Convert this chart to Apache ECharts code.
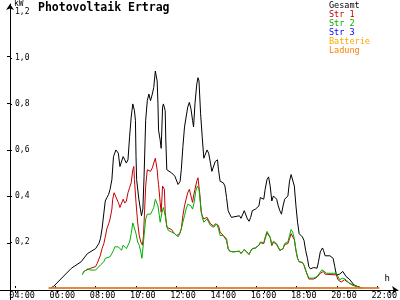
<!DOCTYPE html>
<html>
<head>
<meta charset="utf-8">
<script src="https://cdn.jsdelivr.net/npm/echarts@6/dist/echarts.min.js"></script>
<style>html,body{margin:0;padding:0;background:#fff}#c{width:400px;height:300px}</style>
</head>
<body>
<div id="c"></div>
<script>
// time in decimal hours, power in kW
const gesamt = [[5.77,0],[5.91,0.007],[6.80,0.086],[7.28,0.114],[7.60,0.150],[8.00,0.171],[8.16,0.193],[8.24,0.214],[8.32,0.257],[8.48,0.378],[8.56,0.393],[8.65,0.407],[8.72,0.429],[8.81,0.471],[8.89,0.571],[9.01,0.600],[9.13,0.586],[9.21,0.528],[9.29,0.522],[9.37,0.571],[9.45,0.557],[9.53,0.543],[9.61,0.557],[9.69,0.657],[9.77,0.743],[9.85,0.800],[9.93,0.771],[9.98,0.729],[10.01,0.571],[10.04,0.471],[10.15,0.386],[10.28,0.314],[10.35,0.343],[10.41,0.486],[10.49,0.729],[10.57,0.814],[10.65,0.843],[10.73,0.814],[10.82,0.843],[10.89,0.871],[10.97,0.943],[11.02,0.950],[11.06,0.900],[11.10,0.800],[11.13,0.686],[11.21,0.643],[11.26,0.607],[11.33,0.786],[11.37,0.800],[11.46,0.771],[11.49,0.643],[11.54,0.514],[11.61,0.507],[11.78,0.500],[11.94,0.486],[12.10,0.450],[12.20,0.463],[12.26,0.514],[12.34,0.614],[12.42,0.700],[12.58,0.786],[12.66,0.807],[12.74,0.779],[12.82,0.729],[12.87,0.700],[12.94,0.800],[13.03,0.886],[13.09,0.914],[13.14,0.900],[13.22,0.757],[13.30,0.657],[13.38,0.564],[13.47,0.557],[13.54,0.600],[13.62,0.586],[13.71,0.543],[13.78,0.507],[13.87,0.514],[13.95,0.550],[14.06,0.557],[14.11,0.514],[14.19,0.464],[14.35,0.457],[14.43,0.443],[14.51,0.393],[14.59,0.336],[14.67,0.321],[14.75,0.307],[14.83,0.314],[15.15,0.314],[15.23,0.303],[15.39,0.336],[15.47,0.329],[15.55,0.300],[15.63,0.290],[15.71,0.307],[15.79,0.336],[15.95,0.343],[16.12,0.357],[16.19,0.393],[16.28,0.400],[16.36,0.386],[16.43,0.429],[16.52,0.471],[16.60,0.483],[16.68,0.443],[16.76,0.378],[16.84,0.400],[16.92,0.400],[17.00,0.386],[17.08,0.357],[17.16,0.336],[17.24,0.321],[17.32,0.357],[17.40,0.386],[17.56,0.400],[17.64,0.464],[17.72,0.493],[17.80,0.486],[17.88,0.443],[17.96,0.357],[18.04,0.286],[18.12,0.236],[18.28,0.222],[18.36,0.207],[18.44,0.164],[18.53,0.129],[18.60,0.093],[18.68,0.083],[18.84,0.089],[19.01,0.086],[19.08,0.114],[19.17,0.157],[19.28,0.174],[19.33,0.164],[19.41,0.140],[19.65,0.140],[19.81,0.129],[19.89,0.093],[19.97,0.057],[20.13,0.060],[20.29,0.072],[20.37,0.064],[20.45,0.050],[20.61,0.039],[20.85,0.013],[21.01,0.007],[21.25,0]];

const str1 = [[7.36,0.064],[7.44,0.074],[7.76,0.086],[8.00,0.093],[8.08,0.107],[8.16,0.114],[8.24,0.143],[8.32,0.171],[8.41,0.193],[8.48,0.222],[8.56,0.257],[8.65,0.279],[8.72,0.300],[8.81,0.343],[8.85,0.386],[8.92,0.414],[9.01,0.407],[9.13,0.372],[9.21,0.350],[9.29,0.357],[9.37,0.386],[9.45,0.369],[9.53,0.378],[9.61,0.414],[9.69,0.436],[9.77,0.457],[9.85,0.514],[9.90,0.528],[9.93,0.471],[10.01,0.372],[10.09,0.286],[10.17,0.228],[10.25,0.200],[10.33,0.186],[10.38,0.228],[10.44,0.343],[10.49,0.443],[10.57,0.514],[10.65,0.522],[10.73,0.507],[10.82,0.522],[10.89,0.543],[10.97,0.564],[11.02,0.557],[11.06,0.514],[11.10,0.471],[11.13,0.450],[11.21,0.372],[11.26,0.329],[11.33,0.443],[11.37,0.450],[11.42,0.429],[11.46,0.329],[11.54,0.264],[11.61,0.257],[11.78,0.254],[11.86,0.243],[12.02,0.228],[12.10,0.222],[12.18,0.236],[12.26,0.257],[12.34,0.314],[12.42,0.357],[12.50,0.386],[12.58,0.414],[12.66,0.429],[12.74,0.400],[12.82,0.372],[12.87,0.400],[12.94,0.429],[13.03,0.464],[13.09,0.479],[13.14,0.471],[13.19,0.400],[13.25,0.329],[13.30,0.314],[13.38,0.300],[13.47,0.293],[13.54,0.307],[13.62,0.303],[13.71,0.279],[13.87,0.269],[13.95,0.279],[14.02,0.286],[14.11,0.271],[14.19,0.243],[14.35,0.228],[14.51,0.207],[14.59,0.171],[14.67,0.160],[14.83,0.157],[15.15,0.160],[15.23,0.150],[15.39,0.167],[15.47,0.160],[15.63,0.146],[15.71,0.160],[15.79,0.171],[15.95,0.174],[16.12,0.186],[16.19,0.197],[16.28,0.200],[16.36,0.193],[16.43,0.214],[16.52,0.240],[16.60,0.244],[16.68,0.219],[16.76,0.184],[16.84,0.200],[16.92,0.203],[17.00,0.189],[17.08,0.176],[17.16,0.163],[17.24,0.159],[17.32,0.171],[17.40,0.189],[17.56,0.193],[17.64,0.214],[17.72,0.236],[17.80,0.240],[17.88,0.210],[17.96,0.163],[18.04,0.129],[18.12,0.114],[18.28,0.111],[18.36,0.099],[18.44,0.077],[18.53,0.056],[18.60,0.039],[18.84,0.039],[19.01,0.047],[19.17,0.064],[19.33,0.072],[19.41,0.060],[19.49,0.057],[19.97,0.057],[20.05,0.036],[20.21,0.026],[20.37,0.036],[20.53,0.026],[20.77,0.012],[21.09,0.004],[21.24,0]];

const str2 = [[7.33,0.057],[7.44,0.072],[7.60,0.083],[7.76,0.078],[8.00,0.078],[8.08,0.086],[8.24,0.100],[8.41,0.114],[8.48,0.129],[8.56,0.132],[8.72,0.136],[8.81,0.150],[8.89,0.164],[8.96,0.179],[9.05,0.171],[9.13,0.179],[9.21,0.171],[9.29,0.164],[9.37,0.186],[9.45,0.179],[9.53,0.171],[9.61,0.179],[9.69,0.200],[9.77,0.236],[9.85,0.283],[9.93,0.283],[10.01,0.236],[10.09,0.200],[10.17,0.186],[10.25,0.157],[10.30,0.129],[10.33,0.150],[10.41,0.228],[10.49,0.300],[10.57,0.321],[10.65,0.329],[10.73,0.321],[10.82,0.336],[10.89,0.350],[10.97,0.386],[11.02,0.389],[11.10,0.357],[11.17,0.314],[11.21,0.286],[11.30,0.329],[11.37,0.350],[11.46,0.314],[11.54,0.271],[11.61,0.250],[11.78,0.243],[11.94,0.236],[12.10,0.222],[12.18,0.236],[12.26,0.257],[12.34,0.286],[12.42,0.314],[12.50,0.343],[12.58,0.364],[12.66,0.372],[12.74,0.357],[12.82,0.343],[12.90,0.372],[12.98,0.421],[13.06,0.443],[13.14,0.429],[13.22,0.357],[13.30,0.307],[13.38,0.286],[13.47,0.279],[13.54,0.300],[13.71,0.271],[13.87,0.264],[14.02,0.279],[14.11,0.257],[14.19,0.228],[14.35,0.228],[14.51,0.214],[14.59,0.171],[14.67,0.160],[14.83,0.157],[15.15,0.160],[15.23,0.150],[15.39,0.167],[15.47,0.160],[15.63,0.146],[15.71,0.160],[15.79,0.171],[15.95,0.174],[16.12,0.186],[16.19,0.200],[16.28,0.203],[16.36,0.197],[16.43,0.221],[16.52,0.246],[16.60,0.250],[16.68,0.221],[16.76,0.189],[16.84,0.203],[16.92,0.207],[17.00,0.193],[17.08,0.179],[17.16,0.164],[17.24,0.160],[17.32,0.171],[17.40,0.193],[17.56,0.200],[17.64,0.228],[17.72,0.254],[17.80,0.243],[17.88,0.214],[17.96,0.164],[18.04,0.129],[18.12,0.114],[18.28,0.111],[18.36,0.100],[18.44,0.079],[18.53,0.057],[18.60,0.043],[18.84,0.043],[19.01,0.050],[19.25,0.079],[19.33,0.081],[19.49,0.064],[19.97,0.064],[20.13,0.036],[20.29,0.043],[20.45,0.036],[20.61,0.021],[20.85,0.012],[21.09,0.004],[21.25,0]];

const str3 = [[5.67,0],[22.10,0]];
const batterie = [[5.67,0],[22.10,0]];
const ladung = [[5.67,0],[22.10,0]];

const seriesNames = ['Gesamt','Str 1','Str 2','Str 3','Batterie','Ladung'];
const seriesColors = ['#000000','#c80000','#00b000','#0000ff','#ffa800','#ff8000'];
const hourTicks = [4,6,8,10,12,14,16,18,20,22];
const kwTicks = [0.2,0.4,0.6,0.8,1.0];

const FONT = 'DejaVu Sans Mono';
const chart = echarts.init(document.getElementById('c'), null, {renderer:'canvas'});
const seriesData = [gesamt, str1, str2, str3, batterie, ladung];

chart.setOption({
  animation: false,
  backgroundColor: '#fff',
  title: {
    text: 'Photovoltaik Ertrag', left: 38, top: 2, padding: 0,
    textStyle: {fontFamily: FONT, fontWeight: 'bold', fontSize: 11.5, color: '#000'}
  },
  legend: {
    orient: 'vertical', left: 324, top: 1, padding: 0, itemGap: 0,
    itemWidth: 0, itemHeight: 7.8, selectedMode: false,
    textStyle: {fontFamily: FONT, fontSize: 8.5, lineHeight: 7.8},
    data: seriesNames.map((n, i) => ({name: n, icon: 'rect', itemStyle: {opacity: 0}, lineStyle: {opacity: 0}, textStyle: {color: seriesColors[i]}}))
  },
  grid: [
    {left: 10, right: 2, top: 10, bottom: 10},
    {left: 10, top: 4, bottom: 0, width: 1},
    {left: 0, right: 2, top: 289, height: 1}
  ],
  xAxis: [
    {
      type: 'value', gridIndex: 0, min: 3.7446, max: 22.443,
      name: 'h', nameLocation: 'end', nameGap: 1,
      nameTextStyle: {fontFamily: FONT, fontSize: 9, color: '#000', align: 'center', verticalAlign: 'bottom', padding: [0,0,5,0]},
      axisLine: {show: false}, splitLine: {show: false},
      axisTick: {show: true, inside: true, length: 2, customValues: hourTicks, lineStyle: {color: '#000'}},
      axisLabel: {customValues: hourTicks, margin: 3, align: 'center', padding: [0,0,0,14],
        fontFamily: FONT, fontSize: 8.5, color: '#000',
        formatter: v => (v < 10 ? '0' : '') + v + ':00'}
    },
    {type: 'value', gridIndex: 1, show: false, min: 0, max: 1},
    {
      type: 'value', gridIndex: 2, min: 3.2627, max: 22.443, position: 'bottom',
      axisLine: {show: true, lineStyle: {color: '#000', width: 1}, symbol: ['none','arrow'], symbolSize: [6,6]},
      axisTick: {show: true, inside: false, length: 3, customValues: hourTicks, lineStyle: {color: '#000'}},
      axisLabel: {show: false}, splitLine: {show: false}
    }
  ],
  yAxis: [
    {
      type: 'value', gridIndex: 0, min: 0, max: 1.2, interval: 0.2,
      name: 'kW', nameLocation: 'end', nameGap: 3,
      nameTextStyle: {fontFamily: FONT, fontSize: 8, color: '#000', align: 'left', verticalAlign: 'bottom', padding: [0,0,0,4]},
      axisLine: {show: false}, splitLine: {show: false},
      axisTick: {show: true, inside: true, length: 2, customValues: kwTicks, lineStyle: {color: '#000'}},
      axisLabel: {inside: true, margin: 5, showMinLabel: false, fontFamily: FONT, fontSize: 8, color: '#000',
        formatter: v => v.toFixed(1).replace('.', ',')}
    },
    {
      type: 'value', gridIndex: 1, min: -0.042857, max: 1.2257, position: 'left',
      axisLine: {show: true, lineStyle: {color: '#000', width: 1}, symbol: ['none','arrow'], symbolSize: [6,6]},
      axisTick: {show: true, inside: false, length: 3, customValues: kwTicks, lineStyle: {color: '#000'}},
      axisLabel: {show: false}, splitLine: {show: false}
    },
    {type: 'value', gridIndex: 2, show: false, min: 0, max: 1}
  ],
  series: seriesData.map((d, i) => ({
    name: seriesNames[i], type: 'line', xAxisIndex: 0, yAxisIndex: 0,
    data: d, showSymbol: false, symbol: 'none', clip: false,
    lineStyle: {color: seriesColors[i], width: 1}, itemStyle: {color: seriesColors[i]},
    z: 3 + i
  }))
});
</script>
</body>
</html>
